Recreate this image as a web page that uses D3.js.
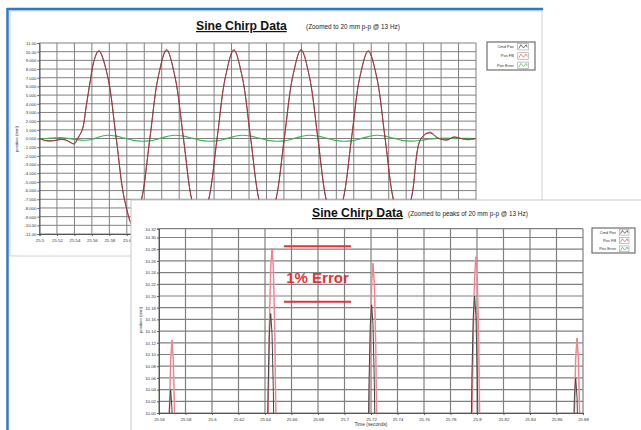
<!DOCTYPE html>
<html>
<head>
<meta charset="utf-8">
<script src="https://cdn.jsdelivr.net/npm/d3@7"></script>
<style>
  body { margin: 0; background: #fff; }
  svg { display: block; font-family: "Liberation Sans", Arial, sans-serif; }
</style>
</head>
<body>
<svg id="chart" width="641" height="430"></svg>
<script>
// ---- overview chart (whole chirp window) ----
const topTime = [25.500, 25.506, 25.512, 25.518, 25.524, 25.530, 25.5365, 25.5400, 25.5445, 25.5491,
  25.5537, 25.5583, 25.5618, 25.5664, 25.5686,
  25.5782, 25.5879, 25.5975, 25.6071, 25.6167, 25.6264, 25.6360, 25.6456,
  25.6552, 25.6649, 25.6745, 25.6841, 25.6937, 25.7034, 25.7130, 25.7226,
  25.7322, 25.7419, 25.7515, 25.7611, 25.7707, 25.7804, 25.7900, 25.7996,
  25.8092, 25.8189, 25.8285, 25.8381, 25.8477, 25.8574, 25.8670, 25.8766,
  25.8862, 25.8959, 25.9055, 25.9151,
  25.9260, 25.9370, 25.9474, 25.9560, 25.9668, 25.9745, 25.9830, 25.9906, 26.000];

const topCmd = [0.00, -0.20, -0.28, -0.22, -0.12, -0.16, -0.50, -0.60, 0.15, 1.05,
  3.85, 6.75, 8.70, 9.95, 10.04,
  7.1, 0.0, -7.1, -10.0, -7.1, 0.0, 7.1, 10.17,
  7.1, 0.0, -7.1, -10.0, -7.1, 0.0, 7.1, 10.18,
  7.1, 0.0, -7.1, -10.0, -7.1, 0.0, 7.1, 10.20,
  7.1, 0.0, -7.1, -10.0, -7.1, 0.0, 7.1, 10.06,
  7.1, 0.0, -7.1, -10.0,
  -6.85, 0.0, 0.65, 0.05, -0.15, 0.15, 0.0, -0.10, 0.0];

const topFb = [0.00, -0.25, -0.30, -0.22, -0.12, -0.18, -0.55, -0.62, 0.10, 1.00,
  3.80, 6.70, 8.70, 10.00, 10.12,
  7.1, 0.0, -7.1, -10.1, -7.1, 0.0, 7.1, 10.28,
  7.1, 0.0, -7.1, -10.1, -7.1, 0.0, 7.1, 10.25,
  7.1, 0.0, -7.1, -10.1, -7.1, 0.0, 7.1, 10.26,
  7.1, 0.0, -7.1, -10.1, -7.1, 0.0, 7.1, 10.12,
  7.1, 0.0, -7.1, -10.1,
  -6.80, 0.0, 0.75, 0.10, -0.20, 0.20, 0.0, -0.15, 0.0];

const topErr = [0.00, 0.00, 0.04, 0.08, 0.10, 0.06, -0.04, -0.10, -0.16, -0.20,
  -0.20, -0.14, -0.05, 0.10, 0.20,
  0.38, 0.27, 0.04, -0.22, -0.32, -0.27, -0.04, 0.22,
  0.38, 0.27, 0.04, -0.22, -0.32, -0.27, -0.04, 0.22,
  0.38, 0.27, 0.04, -0.22, -0.32, -0.27, -0.04, 0.22,
  0.38, 0.27, 0.04, -0.22, -0.32, -0.27, -0.04, 0.22,
  0.38, 0.27, 0.04, -0.22,
  -0.30, -0.20, -0.05, 0.00, 0.05, 0.00, 0.00, 0.02, 0.00];

const topYTicks = [-11, -10, -9, -8, -7, -6, -5, -4, -3, -2, -1, 0, 1, 2, 3, 4, 5, 6, 7, 8, 9, 10, 11];
const topXTicks = [25.5, 25.52, 25.54, 25.56, 25.58, 25.6, 25.62, 25.64, 25.66, 25.68, 25.7, 25.72, 25.74,
  25.76, 25.78, 25.8, 25.82, 25.84, 25.86, 25.88, 25.9, 25.92, 25.94, 25.96, 25.98, 26.0];

// ---- zoomed chart (peaks only) ----
const zoomTime = [
  25.5658, 25.5668, 25.5678, 25.5688, 25.5698, 25.5708, 25.5718, 25.5728, 25.5738,
  25.6413, 25.6423, 25.6433, 25.6443, 25.6453, 25.6463, 25.6473, 25.6483, 25.6493,
  25.7175, 25.7185, 25.7195, 25.7205, 25.7215, 25.7225, 25.7235, 25.7245, 25.7255,
  25.7952, 25.7962, 25.7972, 25.7982, 25.7992, 25.8002, 25.8012, 25.8022, 25.8032,
  25.8715, 25.8725, 25.8735, 25.8745, 25.8755, 25.8765, 25.8775, 25.8785, 25.8795];

const zoomCmd = [
  9.740, 9.907, 10.006, 10.040, 10.006, 9.907, 9.740, 9.510, 9.210,
  9.870, 10.037, 10.136, 10.170, 10.136, 10.037, 9.870, 9.640, 9.340,
  9.885, 10.052, 10.151, 10.185, 10.151, 10.052, 9.885, 9.655, 9.355,
  9.900, 10.067, 10.166, 10.200, 10.166, 10.067, 9.900, 9.670, 9.370,
  9.760, 9.927, 10.026, 10.060, 10.026, 9.927, 9.760, 9.530, 9.230];

const zoomFb = [
  9.595, 9.825, 9.992, 10.091, 10.125, 10.091, 9.992, 9.825, 9.595,
  9.752, 9.982, 10.149, 10.248, 10.282, 10.248, 10.149, 9.982, 9.752,
  9.726, 9.956, 10.123, 10.222, 10.256, 10.222, 10.123, 9.956, 9.726,
  9.737, 9.967, 10.134, 10.233, 10.267, 10.233, 10.134, 9.967, 9.737,
  9.598, 9.828, 9.995, 10.094, 10.128, 10.094, 9.995, 9.828, 9.598];

const zoomYTicks = [10.00, 10.02, 10.04, 10.06, 10.08, 10.10, 10.12, 10.14, 10.16,
  10.18, 10.20, 10.22, 10.24, 10.26, 10.28, 10.30, 10.315];
const zoomYLabels = ["10.00", "10.02", "10.04", "10.06", "10.08", "10.10", "10.12", "10.14", "10.16",
  "10.18", "10.20", "10.22", "10.24", "10.26", "10.28", "10.30", "10.32"];
const zoomXTicks = [25.56, 25.58, 25.6, 25.62, 25.64, 25.66, 25.68, 25.7, 25.72, 25.74,
  25.76, 25.78, 25.8, 25.82, 25.84, 25.86, 25.88];

// 1% error markers: band limits and time span
const errorBand = [10.19, 10.285];
const errorSpan = [25.6543, 25.7049];

const seriesNames = ["Cmd Pos", "Pos FB", "Pos Error"];
const seriesColors = ["#3a3a3a", "#e2525d", "#3cb44b"];

const svg = d3.select("#chart");
const gridColor = "#808080";
const numFmt = d3.format(".4r");
const dashFix = s => s.replace("\u2212", "-");

// window frame of the first screenshot
svg.append("rect").attr("x", 10).attr("y", 11).attr("width", 532).attr("height", 245)
   .attr("fill", "#fff").attr("stroke", "#d2d2d2");
svg.append("line").attr("x1", 7).attr("x2", 543).attr("y1", 9).attr("y2", 9)
   .attr("stroke", "#2f78c4").attr("stroke-width", 2.5);
svg.append("line").attr("x1", 7.5).attr("x2", 7.5).attr("y1", 8).attr("y2", 430)
   .attr("stroke", "#2f78c4").attr("stroke-width", 2.5);

function drawLegend(g, x, y, w, h) {
  g.append("rect").attr("x", x).attr("y", y).attr("width", w).attr("height", h)
   .attr("fill", "#fff").attr("stroke", "#6e6e6e").attr("stroke-width", 1.2);
  const step = h / 3;
  seriesNames.forEach(function(name, i) {
    const cy = y + step * (i + 0.5);
    g.append("text").attr("x", x + w * 0.56).attr("y", cy + 1.4)
     .attr("text-anchor", "end").attr("font-size", 4).attr("fill", "#333").text(name);
    const bx = x + w * 0.64, bw = w * 0.22, bh = step * 0.7;
    g.append("rect").attr("x", bx).attr("y", cy - bh / 2).attr("width", bw).attr("height", bh)
     .attr("fill", "#fff").attr("stroke", "#999").attr("stroke-width", 0.6);
    const wave = d3.line()([[bx + 1, cy + bh * 0.3], [bx + bw * 0.3, cy - bh * 0.3],
      [bx + bw * 0.55, cy + bh * 0.2], [bx + bw * 0.8, cy - bh * 0.3], [bx + bw - 1, cy + bh * 0.1]]);
    g.append("path").attr("d", wave).attr("fill", "none")
     .attr("stroke", seriesColors[i]).attr("stroke-width", 0.7);
  });
}

// ================= overview chart =================
const xTop = d3.scaleLinear().domain([25.5, 26.0]).range([39.5, 476]);
const yTop = d3.scaleLinear().domain([-11, 11]).range([234, 43]);
const gTop = svg.append("g");

gTop.append("text").attr("x", 196).attr("y", 30).attr("font-size", 12.2).attr("font-weight", "bold")
    .attr("text-decoration", "underline").attr("fill", "#111").text("Sine Chirp Data");
gTop.append("text").attr("x", 306).attr("y", 29).attr("font-size", 6.4).attr("fill", "#222")
    .text("(Zoomed to 20 mm p-p @ 13 Hz)");

gTop.selectAll(".hgrid").data(topYTicks).join("line")
    .attr("x1", xTop.range()[0]).attr("x2", xTop.range()[1])
    .attr("y1", d => yTop(d)).attr("y2", d => yTop(d))
    .attr("stroke", gridColor).attr("stroke-width", 1);
gTop.selectAll(".vgrid").data(topXTicks).join("line")
    .attr("x1", d => xTop(d)).attr("x2", d => xTop(d))
    .attr("y1", yTop.range()[1]).attr("y2", yTop.range()[0])
    .attr("stroke", gridColor).attr("stroke-width", 1);

const axTopY = gTop.append("g").attr("transform", "translate(" + xTop.range()[0] + ",0)")
    .call(d3.axisLeft(yTop).tickValues(topYTicks).tickSize(2).tickFormat(d => dashFix(numFmt(d))));
const axTopX = gTop.append("g").attr("transform", "translate(0," + yTop.range()[0] + ")")
    .call(d3.axisBottom(xTop).tickValues(topXTicks).tickSize(2).tickFormat(d3.format("~g")));
[axTopY, axTopX].forEach(a => {
  a.select(".domain").attr("stroke", "#555");
  a.selectAll("line").attr("stroke", "#555");
  a.selectAll("text").attr("font-size", 4.3).attr("fill", "#333")
   .attr("font-family", "Liberation Sans, Arial, sans-serif");
});
axTopY.selectAll("text").attr("x", -3);
// labels that sit under the second screenshot are not visible
axTopX.selectAll(".tick text").filter(d => xTop(d) > 128).remove();

gTop.append("text").attr("transform", "translate(18,139) rotate(-90)")
    .attr("text-anchor", "middle").attr("font-size", 4.3).attr("fill", "#333").text("position (mm)");

const topLine = series => d3.line()
    .x((d, i) => xTop(topTime[i])).y(d => yTop(d))
    .curve(d3.curveCatmullRom.alpha(0.5))(series);

gTop.append("path").attr("d", topLine(topErr)).attr("fill", "none")
    .attr("stroke", seriesColors[2]).attr("stroke-width", 1.1);
gTop.append("path").attr("d", topLine(topCmd)).attr("fill", "none")
    .attr("stroke", seriesColors[0]).attr("stroke-width", 1);
gTop.append("path").attr("d", topLine(topFb)).attr("fill", "none")
    .attr("stroke", "#d0303c").attr("stroke-width", 0.9).attr("stroke-opacity", 0.85);

drawLegend(gTop, 487, 42, 48, 28);

// ================= zoomed chart (second screenshot on top) =================
const xZoom = d3.scaleLinear().domain([25.56, 25.88]).range([159, 583]);
const yZoom = d3.scaleLinear().domain([10.0, 10.315]).range([413, 228.7]);
const gZoom = svg.append("g");

gZoom.append("rect").attr("x", 131).attr("y", 200).attr("width", 520).attr("height", 240)
     .attr("fill", "#fff").attr("stroke", "#c8c8c8");

gZoom.append("text").attr("x", 312).attr("y", 217).attr("font-size", 12.2).attr("font-weight", "bold")
     .attr("text-decoration", "underline").attr("fill", "#111").text("Sine Chirp Data");
gZoom.append("text").attr("x", 408).attr("y", 216).attr("font-size", 6.4).attr("fill", "#222")
     .text("(Zoomed to peaks of 20 mm p-p @ 13 Hz)");

gZoom.selectAll(".hgrid").data(zoomYTicks).join("line")
     .attr("x1", xZoom.range()[0]).attr("x2", xZoom.range()[1])
     .attr("y1", d => yZoom(d)).attr("y2", d => yZoom(d))
     .attr("stroke", gridColor).attr("stroke-width", 1.2);
gZoom.selectAll(".vgrid").data(zoomXTicks).join("line")
     .attr("x1", d => xZoom(d)).attr("x2", d => xZoom(d))
     .attr("y1", yZoom.range()[1]).attr("y2", yZoom.range()[0])
     .attr("stroke", gridColor).attr("stroke-width", 1.2);

const axZY = gZoom.append("g").attr("transform", "translate(" + xZoom.range()[0] + ",0)")
     .call(d3.axisLeft(yZoom).tickValues(zoomYTicks).tickSize(2).tickFormat((d, i) => zoomYLabels[i]));
const axZX = gZoom.append("g").attr("transform", "translate(0," + yZoom.range()[0] + ")")
     .call(d3.axisBottom(xZoom).tickValues(zoomXTicks).tickSize(2).tickFormat(d3.format("~g")));
[axZY, axZX].forEach(a => {
  a.select(".domain").attr("stroke", "#555");
  a.selectAll("line").attr("stroke", "#555");
  a.selectAll("text").attr("font-size", 4.3).attr("fill", "#333")
   .attr("font-family", "Liberation Sans, Arial, sans-serif");
});
axZY.selectAll("text").attr("x", -3);

gZoom.append("text").attr("transform", "translate(142,320) rotate(-90)")
     .attr("text-anchor", "middle").attr("font-size", 4.3).attr("fill", "#333").text("position (mm)");
gZoom.append("text").attr("x", (xZoom.range()[0] + xZoom.range()[1]) / 2).attr("y", 426)
     .attr("text-anchor", "middle").attr("font-size", 4.8).attr("fill", "#333").text("Time (seconds)");

svg.append("clipPath").attr("id", "zoomClip").append("rect")
   .attr("x", xZoom.range()[0]).attr("y", yZoom.range()[1])
   .attr("width", xZoom.range()[1] - xZoom.range()[0] + 2)
   .attr("height", yZoom.range()[0] - yZoom.range()[1]);

const zoomLine = series => d3.line()
    .x((d, i) => xZoom(zoomTime[i])).y(d => yZoom(d))(series);

const gLines = gZoom.append("g").attr("clip-path", "url(#zoomClip)");
gLines.append("path").attr("d", zoomLine(zoomFb)).attr("fill", "none")
      .attr("stroke", "#f6b1b8").attr("stroke-width", 1.6);
gLines.append("path").attr("d", zoomLine(zoomFb)).attr("fill", "none")
      .attr("stroke", "#e0505c").attr("stroke-width", 0.5);
gLines.append("path").attr("d", zoomLine(zoomCmd)).attr("fill", "none")
      .attr("stroke", "#444").attr("stroke-width", 1);

// 1% error markers
gZoom.selectAll(".errline").data(errorBand).join("line")
     .attr("x1", xZoom(errorSpan[0])).attr("x2", xZoom(errorSpan[1]))
     .attr("y1", d => yZoom(d)).attr("y2", d => yZoom(d))
     .attr("stroke", "#e53238").attr("stroke-width", 2);
gZoom.append("text").attr("x", (xZoom(errorSpan[0]) + xZoom(errorSpan[1])) / 2)
     .attr("y", 282.5).attr("text-anchor", "middle")
     .attr("font-size", 15).attr("font-weight", "bold").attr("fill", "#e53238").text("1% Error");

drawLegend(gZoom, 592, 228, 43, 25);
</script>
</body>
</html>
